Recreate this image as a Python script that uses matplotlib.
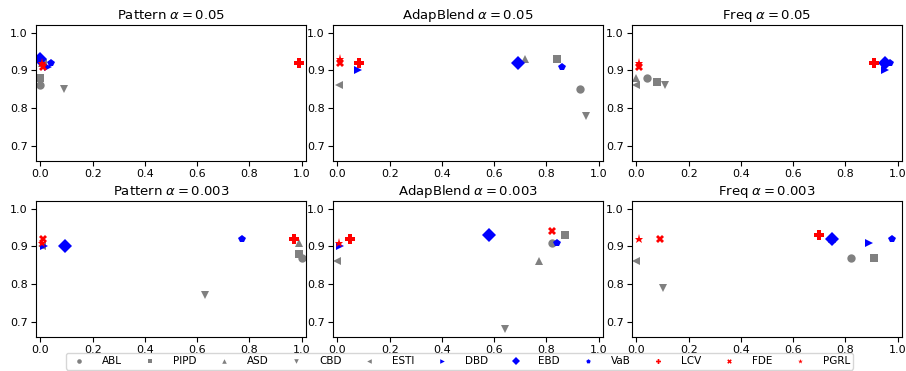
import matplotlib
matplotlib.use("Agg")
import matplotlib.pyplot as plt

titles = [r"Pattern $\alpha=0.05$", r"AdapBlend $\alpha=0.05$", r"Freq $\alpha=0.05$",
          r"Pattern $\alpha=0.003$", r"AdapBlend $\alpha=0.003$", r"Freq $\alpha=0.003$"]

methods = ["ABL", "PIPD", "ASD", "CBD", "ESTI", "DBD", "EBD", "VaB", "LCV", "FDE", "PGRL"]

# x / y values per panel (order of titles)
ABL_x = [0.0, 0.93, 0.04, 1.0, 0.82, 0.82]
ABL_y = [0.86, 0.85, 0.88, 0.87, 0.91, 0.87]
PIPD_x = [0.0, 0.84, 0.08, 0.99, 0.87, 0.91]
PIPD_y = [0.88, 0.93, 0.87, 0.88, 0.93, 0.87]
ASD_x = [0.005, 0.72, 0.0, 0.99, 0.77, 0.75]
ASD_y = [0.92, 0.93, 0.88, 0.91, 0.86, 0.92]
CBD_x = [0.09, 0.95, 0.11, 0.63, 0.64, 0.10]
CBD_y = [0.85, 0.78, 0.86, 0.77, 0.68, 0.79]
ESTI_x = [0.01, 0.005, 0.0, 0.005, 0.0, 0.0]
ESTI_y = [0.92, 0.86, 0.86, 0.90, 0.86, 0.86]
DBD_x = [0.03, 0.08, 0.95, 0.015, 0.01, 0.89]
DBD_y = [0.91, 0.90, 0.90, 0.90, 0.90, 0.91]
EBD_x = [0.0, 0.69, 0.95, 0.094, 0.58, 0.75]
EBD_y = [0.93, 0.92, 0.92, 0.90, 0.93, 0.92]
VaB_x = [0.04, 0.86, 0.97, 0.77, 0.84, 0.98]
VaB_y = [0.92, 0.91, 0.92, 0.92, 0.91, 0.92]
LCV_x = [0.99, 0.083, 0.91, 0.97, 0.05, 0.70]
LCV_y = [0.92, 0.92, 0.92, 0.92, 0.92, 0.93]
FDE_x = [0.01, 0.01, 0.01, 0.01, 0.82, 0.09]
FDE_y = [0.91, 0.92, 0.91, 0.92, 0.94, 0.92]
PGRL_x = [0.005, 0.01, 0.01, 0.005, 0.005, 0.01]
PGRL_y = [0.92, 0.93, 0.92, 0.91, 0.91, 0.92]

data = {
    "ABL": (ABL_x, ABL_y), "PIPD": (PIPD_x, PIPD_y), "ASD": (ASD_x, ASD_y),
    "CBD": (CBD_x, CBD_y), "ESTI": (ESTI_x, ESTI_y), "DBD": (DBD_x, DBD_y),
    "EBD": (EBD_x, EBD_y), "VaB": (VaB_x, VaB_y), "LCV": (LCV_x, LCV_y),
    "FDE": (FDE_x, FDE_y), "PGRL": (PGRL_x, PGRL_y),
}
style = {
    "ABL": ("o", "gray", 6), "PIPD": ("s", "gray", 6), "ASD": ("^", "gray", 6),
    "CBD": ("v", "gray", 6), "ESTI": ("<", "gray", 6), "DBD": (">", "blue", 6),
    "EBD": ("D", "blue", 7), "VaB": ("p", "blue", 6), "LCV": ("P", "red", 6.5),
    "FDE": ("X", "red", 6), "PGRL": ("*", "red", 6.5),
}

plt.rcParams["font.family"] = ["DejaVu Sans"]
fig = plt.figure(figsize=(9.06, 3.71), dpi=100)
lefts = [36 / 906, 333 / 906, 632 / 906]
bottoms = [1 - 161 / 371, 1 - 337 / 371]
w = 270 / 906
h = 136 / 371

handles = []
for i, t in enumerate(titles):
    r, c = divmod(i, 3)
    ax = fig.add_axes([lefts[c], bottoms[r], w, h])
    for m in methods:
        mk, col, ms = style[m]
        xs, ys = data[m]
        ln, = ax.plot([xs[i]], [ys[i]], linestyle="none", marker=mk, color=col,
                      markersize=ms, label=m, markeredgewidth=0)
        if i == 0:
            handles.append(ln)
    ax.set_xlim(-0.017, 1.017)
    ax.set_ylim(0.66, 1.02)
    ax.set_yticks([0.7, 0.8, 0.9, 1.0])
    ax.set_xticks([0.0, 0.2, 0.4, 0.6, 0.8, 1.0])
    ax.tick_params(labelsize=8, length=3.5, pad=2.5)
    ax.set_title(t, fontsize=9.5, pad=4)

fig.legend(handles, methods, loc="lower center", ncol=11, bbox_to_anchor=(0.507, 0.004),
           fontsize=7.5, markerscale=0.55, borderaxespad=0, handletextpad=1.2,
           columnspacing=1.65, frameon=True, borderpad=0.3)

fig.savefig("out.png", dpi=100)
